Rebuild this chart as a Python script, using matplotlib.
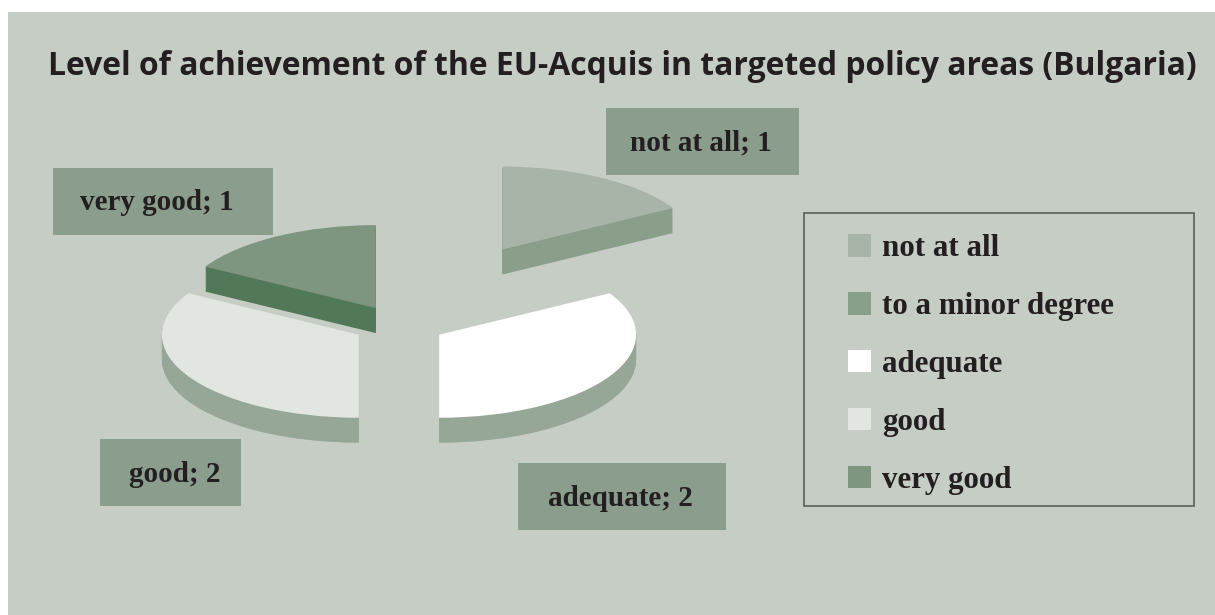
import matplotlib
matplotlib.use("Agg")
import matplotlib.pyplot as plt
from matplotlib.patches import Rectangle

W, H = 1215, 615
title = "Level of achievement of the EU-Acquis in targeted policy areas (Bulgaria)"
categories = ["not at all", "to a minor degree", "adequate", "good", "very good"]
values = [1, 0, 2, 2, 1]
top_colors = ["#A9B4A9", "#88A08A", "#FFFFFF", "#E1E6E0", "#7E967F"]
side_colors = ["#8A9E8A", "#88A08A", "#96A697", "#96A697", "#52785A"]
explode = [1.05, 0.0, 0.235, 0.235, 0.235]
label_boxes = {"not at all": (606, 108, 799, 175), "adequate": (518, 463, 726, 530),
               "good": (100, 439, 241, 506), "very good": (53, 168, 273, 235)}
label_text_x = {"not at all": 701, "adequate": 620, "good": 175, "very good": 157}

BG = "#C6CDC5"
BOX = "#8B9E8E"
INK = "#231F20"
SERIF = "Liberation Serif"

# pie geometry, in pixels
CX, CY, RX, RY, DEPTH = 399, 325, 197, 83, 25

fig = plt.figure(figsize=(W / 100, H / 100), dpi=100, facecolor="white")


def fx(x):
    return x / W


def fy(y):
    return 1 - y / H


fig.patches.append(Rectangle((fx(8), 0), 1 - fx(8), fy(12), transform=fig.transFigure,
                             facecolor=BG, edgecolor="none", figure=fig, zorder=-1))

ax = fig.add_axes([0, 0, 1, 1], facecolor="none")
for d in range(DEPTH, 0, -1):
    ax.pie(values, explode=explode, colors=side_colors, startangle=90, counterclock=False,
           radius=1, center=(0, -d / RY), wedgeprops={"linewidth": 0})
wedges, _ = ax.pie(values, explode=explode, colors=top_colors, startangle=90,
                   counterclock=False, radius=1, center=(0, 0), wedgeprops={"linewidth": 0})
ax.set_aspect("auto")
ax.set_xlim(-CX / RX, (W - CX) / RX)
ax.set_ylim(-(H - CY) / RY, CY / RY)
ax.set_axis_off()

fig.text(fx(48), fy(75), title, family="Open Sans", weight="bold", fontsize=22.95,
         color=INK, ha="left", va="baseline")

for cat, val in zip(categories, values):
    if cat not in label_boxes:
        continue
    x0, y0, x1, y1 = label_boxes[cat]
    fig.patches.append(Rectangle((fx(x0), fy(y1)), (x1 - x0) / W, (y1 - y0) / H,
                                 transform=fig.transFigure, facecolor=BOX, edgecolor="none",
                                 figure=fig, zorder=5))
    fig.text(fx(label_text_x[cat]), fy((y0 + y1) / 2 + 9), f"{cat}; {val}", family=SERIF,
             weight="bold", fontsize=21, color=INK, ha="center", va="baseline", zorder=6)

fig.patches.append(Rectangle((fx(804), fy(506)), 390 / W, 293 / H, transform=fig.transFigure,
                             facecolor="none", edgecolor="#5A5F5A", linewidth=1.2,
                             figure=fig, zorder=5))
fs = 22.3
px = fs * 100 / 72
leg = fig.legend(wedges, categories, loc="upper left", bbox_to_anchor=(fx(848), fy(234)),
                 frameon=False, prop={"family": SERIF, "weight": "bold", "size": fs},
                 labelcolor=INK, borderpad=0, borderaxespad=0,
                 handlelength=23 / px, handleheight=23 / px, handletextpad=11 / px,
                 labelspacing=(58.9 - 30) / px)
leg.set_zorder(6)

fig.savefig("out.png", dpi=100)
